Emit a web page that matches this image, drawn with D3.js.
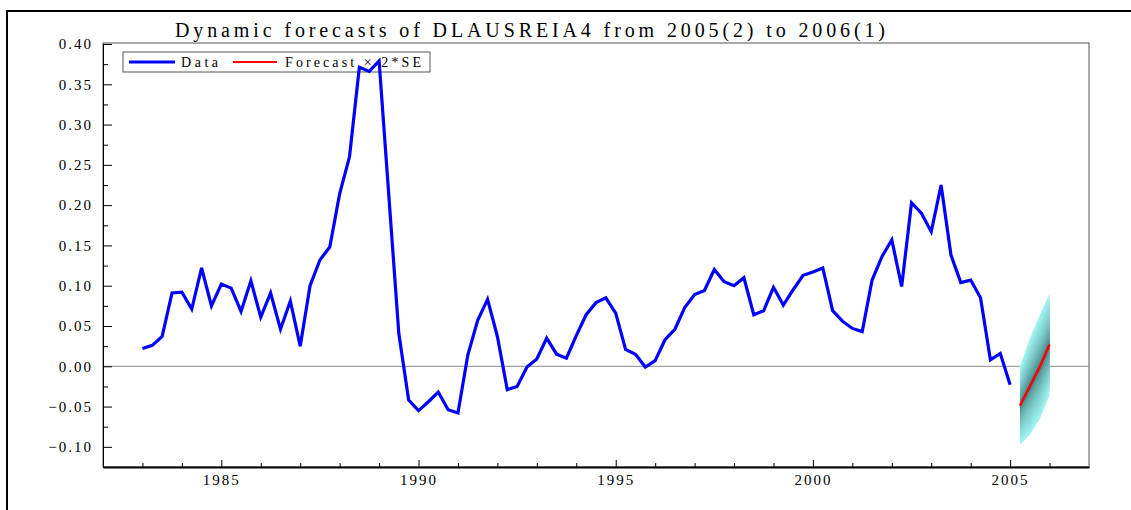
<!DOCTYPE html>
<html>
<head>
<meta charset="utf-8">
<script src="https://cdn.jsdelivr.net/npm/d3@7"></script>
<style>
  body { margin: 0; background: #fff; }
  svg { display: block; }
  .axis text { font-family: "Liberation Serif", "Times New Roman", serif; font-size: 15px; fill: #000; letter-spacing: 2px; }
</style>
</head>
<body>
<svg id="chart" width="1131" height="510"></svg>
<script>
// quarterly data, 1983(1) .. 2005(1)
let startYear = 1983;
let dataValues = [
  0.022, 0.026, 0.037, 0.091, 0.092, 0.071, 0.122, 0.075,
  0.102, 0.097, 0.068, 0.106, 0.061, 0.091, 0.046, 0.081,
  0.025, 0.100, 0.132, 0.148, 0.214, 0.260, 0.371, 0.366,
  0.379, 0.210, 0.041, -0.042, -0.055, -0.044, -0.032, -0.054,
  -0.058, 0.014, 0.057, 0.083, 0.037, -0.029, -0.025, -0.001,
  0.009, 0.035, 0.015, 0.010, 0.038, 0.064, 0.079, 0.085,
  0.066, 0.021, 0.015, -0.001, 0.007, 0.033, 0.046, 0.073,
  0.089, 0.094, 0.120, 0.105, 0.100, 0.110, 0.064, 0.069,
  0.098, 0.076, 0.095, 0.113, 0.117, 0.122, 0.069, 0.056,
  0.047, 0.043, 0.107, 0.136, 0.157, 0.099, 0.203, 0.190,
  0.167, 0.225, 0.138, 0.104, 0.107, 0.085, 0.008, 0.016,
  -0.023
];

// dynamic forecasts 2005(2) .. 2006(1) and their standard errors
let forecastDates = [2005.25, 2005.5, 2005.75, 2006.0];
let forecastValues = [-0.049, -0.025, -0.001, 0.027];
let forecastSE = [0.0243, 0.0298, 0.0322, 0.0315];

let yMajorTicks = [-0.10, -0.05, 0.00, 0.05, 0.10, 0.15, 0.20, 0.25, 0.30, 0.35, 0.40];
let yMinorTicks = [-0.125, -0.075, -0.025, 0.025, 0.075, 0.125, 0.175, 0.225, 0.275, 0.325, 0.375];
let xMajorTicks = [1985, 1990, 1995, 2000, 2005];
let xMinorTicks = d3.range(1983, 2007);

let title = 'Dynamic forecasts of DLAUSREIA4 from 2005(2) to 2006(1)';

let series = dataValues.map((v, i) => ({ t: startYear + i / 4, v: v }));
let fc = forecastDates.map((t, i) => ({ t: t, v: forecastValues[i], se: forecastSE[i] }));

let plotLeft = 103, plotRight = 1089, plotTop = 44, plotBottom = 467;

let xScale = d3.scaleLinear().domain([1982, 2007]).range([plotLeft, plotRight]);
let yScale = d3.scaleLinear().domain([-0.125, 0.40]).range([plotBottom, plotTop]);

let svg = d3.select('#chart');

// outer frame
svg.append('path')
  .attr('d', 'M7,510 L7,11 L1131,11')
  .style('fill', 'none')
  .style('stroke', '#000')
  .style('stroke-width', 2);

// title
svg.append('text')
  .attr('x', 530)
  .attr('y', 37)
  .attr('text-anchor', 'middle')
  .attr('textLength', 710)
  .attr('lengthAdjust', 'spacing')
  .style('font-family', '"Liberation Serif", "Times New Roman", serif')
  .style('font-size', '20px')
  .text(title);

// plot frame
svg.append('rect')
  .attr('x', plotLeft).attr('y', plotTop - 1)
  .attr('width', plotRight - plotLeft).attr('height', plotBottom - plotTop + 1)
  .style('fill', 'none')
  .style('stroke', '#555')
  .style('stroke-width', 1);

// zero line
svg.append('line')
  .attr('x1', plotLeft).attr('x2', plotRight)
  .attr('y1', yScale(0)).attr('y2', yScale(0))
  .style('stroke', '#8c8c8c')
  .style('stroke-width', 1);

// y axis
let yAxis = d3.axisLeft(yScale).tickValues(yMajorTicks).tickSizeInner(-9).tickSizeOuter(0)
  .tickPadding(10).tickFormat(d3.format('.2f'));
svg.append('g').attr('class', 'axis').attr('transform', `translate(${plotLeft},0)`).call(yAxis)
  .call(g => g.select('.domain').style('stroke', '#000'));
svg.append('g').attr('class', 'axis').attr('transform', `translate(${plotLeft},0)`)
  .call(d3.axisLeft(yScale).tickValues(yMinorTicks).tickSizeInner(-5).tickSizeOuter(0).tickFormat(''))
  .call(g => g.select('.domain').remove());

// x axis
let xAxis = d3.axisBottom(xScale).tickValues(xMajorTicks).tickSizeInner(-7).tickSizeOuter(0)
  .tickPadding(7).tickFormat(d3.format('d'));
svg.append('g').attr('class', 'axis').attr('transform', `translate(0,${plotBottom})`).call(xAxis)
  .call(g => g.select('.domain').style('stroke', '#000').style('stroke-width', 2));
svg.append('g').attr('class', 'axis').attr('transform', `translate(0,${plotBottom})`)
  .call(d3.axisBottom(xScale).tickValues(xMinorTicks.filter(d => d % 5 != 0)).tickSizeInner(-4).tickSizeOuter(0).tickFormat(''))
  .call(g => g.select('.domain').remove());

// legend
let legend = svg.append('g').attr('transform', 'translate(123,52)');
legend.append('rect')
  .attr('width', 307).attr('height', 20)
  .style('fill', '#fff')
  .style('stroke', '#555');
legend.append('line').attr('x1', 6).attr('x2', 52).attr('y1', 10).attr('y2', 10)
  .style('stroke', '#0000ff').style('stroke-width', 3);
legend.append('line').attr('x1', 110).attr('x2', 154).attr('y1', 10).attr('y2', 10)
  .style('stroke', '#ff0000').style('stroke-width', 2);
legend.append('text').attr('x', 58).attr('y', 15)
  .attr('textLength', 37).attr('lengthAdjust', 'spacing')
  .style('font-family', '"Liberation Serif", serif').style('font-size', '14px')
  .text('Data');
legend.append('text').attr('x', 162).attr('y', 15)
  .attr('textLength', 136).attr('lengthAdjust', 'spacing')
  .style('font-family', '"Liberation Serif", serif').style('font-size', '14px')
  .text('Forecast × 2*SE');

// forecast fan: nested bands, lighter further out
let bands = 12;
let fanColor = d3.interpolateRgb('#2f6a6a', '#a0f2f2');
for (let k = bands; k >= 1; k--) {
  let w = 2 * k / bands;
  let band = d3.area()
    .x(d => xScale(d.t))
    .y0(d => yScale(d.v - w * d.se))
    .y1(d => yScale(d.v + w * d.se));
  svg.append('path')
    .datum(fc)
    .attr('d', band)
    .style('fill', fanColor(Math.pow(k / bands, 0.6)))
    .style('stroke', 'none');
}

// data line
let line = d3.line().x(d => xScale(d.t)).y(d => yScale(d.v));
svg.append('path')
  .datum(series)
  .attr('d', line)
  .style('fill', 'none')
  .style('stroke', '#0000ff')
  .style('stroke-width', 3.2);

// forecast line
svg.append('path')
  .datum(fc)
  .attr('d', line)
  .style('fill', 'none')
  .style('stroke', '#ff0000')
  .style('stroke-width', 2.5);
</script>
</body>
</html>
